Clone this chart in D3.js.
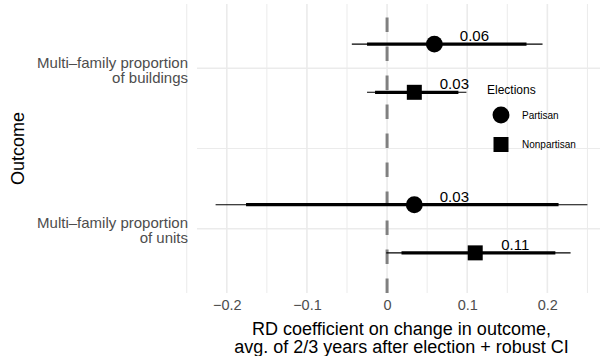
<!DOCTYPE html>
<html>
<head>
<meta charset="utf-8">
<script src="https://cdn.jsdelivr.net/npm/d3@7"></script>
<style>
  html, body { margin: 0; padding: 0; background: #fff; }
  svg { display: block; font-family: "Liberation Sans", Arial, sans-serif; }
</style>
</head>
<body>
<svg id="chart" width="600" height="356"></svg>
<script>
// Outcomes (bottom to top on the y axis)
const outcomes = ["Multi\u2013family proportion\nof units", "Multi\u2013family proportion\nof buildings"];
const electionTypes = ["Partisan", "Nonpartisan"];

// RD estimates, one row per outcome x election type
const rowOutcome  = [1, 1, 0, 0];
const rowElection = ["Partisan", "Nonpartisan", "Partisan", "Nonpartisan"];
const estimates   = [0.059, 0.034, 0.034, 0.110];
const ciInnerLow  = [-0.025, -0.015, -0.176, 0.018];
const ciInnerHigh = [0.174, 0.089, 0.214, 0.210];
const ciOuterLow  = [-0.044, -0.025, -0.214, -0.001];
const ciOuterHigh = [0.194, 0.099, 0.250, 0.229];

const xTicks = [-0.2, -0.1, 0, 0.1, 0.2];
const xMinor = [-0.25, -0.15, -0.05, 0.05, 0.15, 0.25];

const rows = estimates.map((est, i) => ({
  outcome: outcomes[rowOutcome[i]],
  pos: rowOutcome[i] + 1,
  election: rowElection[i],
  est,
  lo1: ciInnerLow[i], hi1: ciInnerHigh[i],
  lo2: ciOuterLow[i], hi2: ciOuterHigh[i]
}));

const svg = d3.select("#chart");
const panel = { left: 197, right: 606, top: 4, bottom: 293 };

// x: expand data range by 5% each side
const xmin = d3.min(ciOuterLow), xmax = d3.max(ciOuterHigh);
const pad = (xmax - xmin) * 0.05;
const x = d3.scaleLinear().domain([xmin - pad, xmax + pad]).range([panel.left, panel.right]);

// y: discrete positions 1..2 with padding
const y = d3.scaleLinear().domain([0.6, 2.4]).range([panel.bottom, panel.top]);
const dodge = d3.scaleOrdinal().domain(electionTypes).range([0.15, -0.15]);

const grid = svg.append("g");
// minor grid
grid.selectAll(".vminor").data(xMinor).join("line")
  .attr("x1", d => x(d)).attr("x2", d => x(d))
  .attr("y1", panel.top).attr("y2", panel.bottom)
  .attr("stroke", "#EBEBEB").attr("stroke-width", 1);
grid.append("line")
  .attr("x1", panel.left).attr("x2", 600)
  .attr("y1", y(1.5)).attr("y2", y(1.5))
  .attr("stroke", "#EBEBEB").attr("stroke-width", 1);
// major grid
grid.selectAll(".vmajor").data(xTicks).join("line")
  .attr("x1", d => x(d)).attr("x2", d => x(d))
  .attr("y1", panel.top).attr("y2", panel.bottom)
  .attr("stroke", "#EBEBEB").attr("stroke-width", 1.6);
grid.selectAll(".hmajor").data([1, 2]).join("line")
  .attr("x1", panel.left).attr("x2", 600)
  .attr("y1", d => y(d)).attr("y2", d => y(d))
  .attr("stroke", "#EBEBEB").attr("stroke-width", 1.6);

// zero reference line, dashed, drawn from the bottom
svg.append("line")
  .attr("x1", x(0)).attr("x2", x(0))
  .attr("y1", panel.bottom).attr("y2", panel.top)
  .attr("stroke", "#808080").attr("stroke-width", 3)
  .attr("stroke-dasharray", "14.5,14.5");

const marks = svg.append("g");
const yPos = d => y(d.pos + dodge(d.election));

marks.selectAll(".outer").data(rows).join("line")
  .attr("x1", d => x(d.lo2)).attr("x2", d => x(d.hi2))
  .attr("y1", yPos).attr("y2", yPos)
  .attr("stroke", "#000").attr("stroke-width", 1.1);
marks.selectAll(".inner").data(rows).join("line")
  .attr("x1", d => x(d.lo1)).attr("x2", d => x(d.hi1))
  .attr("y1", yPos).attr("y2", yPos)
  .attr("stroke", "#000").attr("stroke-width", 3.2);

const sym = d3.scaleOrdinal().domain(electionTypes)
  .range([d3.symbol(d3.symbolCircle, 225)(), d3.symbol(d3.symbolSquare, 225)()]);

marks.selectAll(".pt").data(rows).join("path")
  .attr("d", d => sym(d.election))
  .attr("transform", d => `translate(${x(d.est)},${yPos(d)})`)
  .attr("fill", "#000");

marks.selectAll(".lab").data(rows).join("text")
  .attr("x", d => x(d.est + 0.05))
  .attr("y", d => yPos(d) - 3)
  .attr("text-anchor", "middle")
  .attr("font-size", 15)
  .attr("fill", "#000")
  .text(d => d3.format(".2f")(d.est));

// x axis
const xAxis = d3.axisBottom(x).tickValues(xTicks).tickSize(0).tickPadding(0)
  .tickFormat(d => d === 0 ? "0" : d3.format(".1f")(d).replace("-", "\u2212"));
const gx = svg.append("g").attr("transform", `translate(0,${panel.bottom})`).call(xAxis);
gx.select(".domain").remove();
gx.selectAll("text").attr("font-size", 14.5).attr("fill", "#4D4D4D")
  .attr("font-family", "Liberation Sans, Arial, sans-serif")
  .attr("dy", "0").attr("y", 17);

// y axis labels (two lines each)
const ylab = svg.append("g");
outcomes.forEach((o, i) => {
  const lines = o.split("\n");
  const t = ylab.append("text")
    .attr("text-anchor", "end").attr("font-size", 15).attr("fill", "#4D4D4D");
  lines.forEach((ln, j) => {
    t.append("tspan").attr("x", 188)
      .attr("y", y(i + 1) - 0.5 + j * 15)
      .text(ln);
  });
});

// axis titles
svg.append("text")
  .attr("transform", `translate(24,${(panel.top + panel.bottom) / 2}) rotate(-90)`)
  .attr("text-anchor", "middle").attr("font-size", 18).attr("fill", "#000")
  .text("Outcome");

const xt = svg.append("text").attr("text-anchor", "middle").attr("font-size", 18).attr("fill", "#000");
xt.append("tspan").attr("x", (panel.left + panel.right) / 2).attr("y", 334.5)
  .text("RD coefficient on change in outcome,");
xt.append("tspan").attr("x", (panel.left + panel.right) / 2).attr("y", 352.5)
  .text("avg. of 2/3 years after election + robust CI");

// legend
const lg = svg.append("g").attr("transform", "translate(487,0)");
lg.append("text").attr("x", 0).attr("y", 93.5).attr("font-size", 12).attr("fill", "#000").text("Elections");
electionTypes.forEach((e, i) => {
  const cy = 115 + i * 29.5;
  lg.append("path").attr("d", sym(e)).attr("transform", `translate(14,${cy})`).attr("fill", "#000");
  lg.append("text").attr("x", 35).attr("y", cy + 3.6).attr("font-size", 10).attr("fill", "#000").text(e);
});
</script>
</body>
</html>
